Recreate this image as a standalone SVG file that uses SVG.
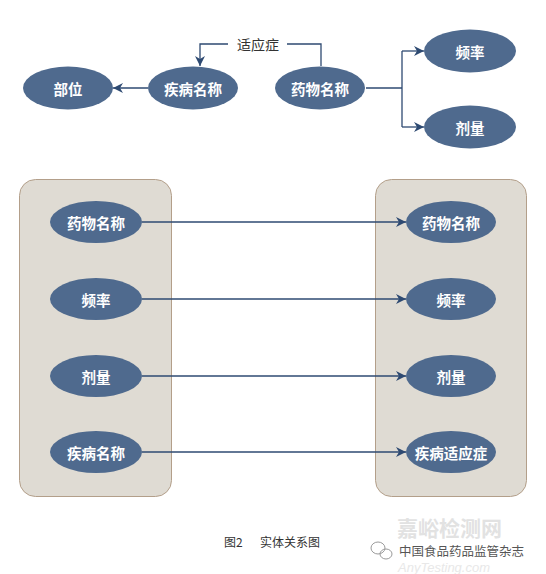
<svg xmlns="http://www.w3.org/2000/svg" width="546" height="574" viewBox="0 0 546 574">
<defs>
<style>
.node ellipse{fill:#4f6a8e;}
.node text{fill:#ffffff;font-family:"Noto Sans CJK SC","Noto Sans CJK TC",sans-serif;font-weight:bold;font-size:14.5px;text-anchor:middle;dominant-baseline:central;}
.edge{fill:none;stroke:#2e4a72;stroke-width:1.3;}
.box{fill:#dfdbd3;stroke:#b39f8a;stroke-width:1;}
.lbl{fill:#333333;font-family:"Noto Sans CJK SC",sans-serif;font-size:14px;dominant-baseline:central;}
.cap{fill:#333333;font-family:"Noto Sans CJK SC",sans-serif;font-size:12px;dominant-baseline:central;}
</style>
<marker id="ah" viewBox="0 0 10 10" refX="10" refY="5" markerWidth="10" markerHeight="10" markerUnits="userSpaceOnUse" orient="auto">
<path d="M0,0 L10,5 L0,10 L3,5 Z" fill="#2e4a72"/>
</marker>
</defs>
<rect width="546" height="574" fill="#ffffff"/>

<g id="containers">
<rect class="box" x="19.5" y="179.5" width="152" height="317" rx="16"/>
<rect class="box" x="375.5" y="179.5" width="151" height="317" rx="16"/>
</g>

<g id="connectors">
<path class="edge" d="M148,88 L113,88" marker-end="url(#ah)"/>
<path class="edge" d="M321,66 L321,44 L287,44"/>
<path class="edge" d="M228,44 L200,44 L200,66" marker-end="url(#ah)"/>
<path class="edge" d="M366,88 L402,88"/>
<path class="edge" d="M402,51 L402,127"/>
<path class="edge" d="M402,51 L424,51" marker-end="url(#ah)"/>
<path class="edge" d="M402,127 L424,127" marker-end="url(#ah)"/>
<path class="edge" d="M142,222 L406,222" marker-end="url(#ah)"/>
<path class="edge" d="M142,299 L406,299" marker-end="url(#ah)"/>
<path class="edge" d="M142,376 L406,376" marker-end="url(#ah)"/>
<path class="edge" d="M142,452 L406,452" marker-end="url(#ah)"/>
<text class="lbl" x="258" y="44" text-anchor="middle">适应症</text>
</g>

<g id="n-buwei" class="node"><ellipse cx="68" cy="88" rx="45" ry="21.5"/><text x="68" y="88">部位</text></g>
<g id="n-jibing" class="node"><ellipse cx="193" cy="88" rx="45" ry="21.5"/><text x="193" y="88">疾病名称</text></g>
<g id="n-yaowu" class="node"><ellipse cx="320" cy="88" rx="45" ry="21.5"/><text x="320" y="88">药物名称</text></g>
<g id="n-pinlv" class="node"><ellipse cx="470" cy="51" rx="46" ry="21.5"/><text x="470" y="51">频率</text></g>
<g id="n-jiliang" class="node"><ellipse cx="470" cy="127" rx="46" ry="21.5"/><text x="470" y="127">剂量</text></g>

<g id="l-yaowu" class="node"><ellipse cx="96" cy="222" rx="46" ry="21"/><text x="96" y="222">药物名称</text></g>
<g id="l-pinlv" class="node"><ellipse cx="96" cy="299" rx="46" ry="21"/><text x="96" y="299">频率</text></g>
<g id="l-jiliang" class="node"><ellipse cx="96" cy="376" rx="46" ry="21"/><text x="96" y="376">剂量</text></g>
<g id="l-jibing" class="node"><ellipse cx="96" cy="452" rx="46" ry="21"/><text x="96" y="452">疾病名称</text></g>

<g id="r-yaowu" class="node"><ellipse cx="451" cy="222" rx="45" ry="21"/><text x="451" y="222">药物名称</text></g>
<g id="r-pinlv" class="node"><ellipse cx="451" cy="299" rx="45" ry="21"/><text x="451" y="299">频率</text></g>
<g id="r-jiliang" class="node"><ellipse cx="451" cy="376" rx="45" ry="21"/><text x="451" y="376">剂量</text></g>
<g id="r-jibing" class="node"><ellipse cx="451" cy="452" rx="45" ry="21"/><text x="451" y="452" font-size="14px">疾病适应症</text></g>

<g id="caption">
<text class="cap" x="224" y="541">图2</text>
<text class="cap" x="260" y="541">实体关系图</text>
</g>

<g id="watermark">
<text x="397" y="536" fill="#e2e2e2" font-family="Noto Sans CJK SC,sans-serif" font-size="21" font-weight="bold">嘉峪检测网</text>
<text x="398" y="572" fill="#e8e8e8" font-family="Liberation Sans,sans-serif" font-size="13" font-style="italic">AnyTesting.com</text>
<g fill="none" stroke="#9a9a9a" stroke-width="1">
<ellipse cx="378" cy="548" rx="7" ry="6"/>
<ellipse cx="386" cy="554" rx="6" ry="5"/>
</g>
<text x="399" y="550" fill="#555555" stroke="#ffffff" stroke-width="2" paint-order="stroke" font-family="Noto Sans CJK SC,sans-serif" font-size="12.5" dominant-baseline="central">中国食品药品监管杂志</text>
</g>
</svg>
